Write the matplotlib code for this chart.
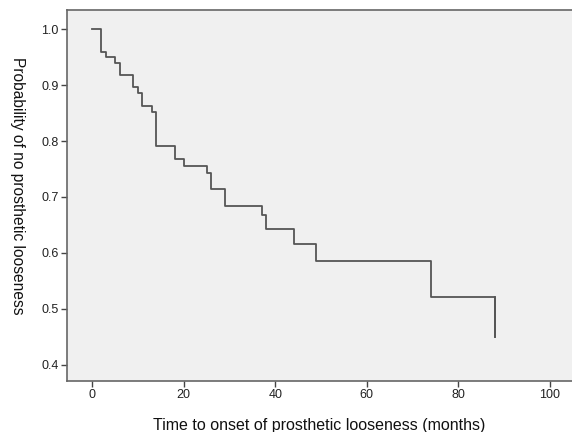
import matplotlib
matplotlib.use("Agg")
import matplotlib.pyplot as plt

# Kaplan-Meier steps
times = [0, 2, 3, 5, 6, 9, 10, 11, 13, 14, 18, 20, 25, 26, 29, 37, 38, 44, 49, 74, 88]
surv = [1.0, 0.960, 0.950, 0.940, 0.918, 0.896, 0.886, 0.863, 0.852, 0.792,
        0.768, 0.756, 0.743, 0.714, 0.684, 0.667, 0.643, 0.615, 0.586, 0.521, 0.449]

x_ticks = [0, 20, 40, 60, 80, 100]
y_ticks = [0.4, 0.5, 0.6, 0.7, 0.8, 0.9, 1.0]

plt.rcParams['font.family'] = ['Liberation Sans', 'DejaVu Sans']

fig = plt.figure(figsize=(5.72, 4.32), dpi=100)
ax = fig.add_axes([0.117, 0.118, 0.883, 0.858])
ax.set_facecolor('#f0f0f0')

ax.step(times, surv, where='post', color='#555555', lw=1.3)
# final drop at last event
ax.plot([times[-1], times[-1]], [surv[-2], surv[-1]], color='#555555', lw=1.3)

ax.set_xlim(-5.5, 104.8)
ax.set_ylim(0.3705, 1.034)
ax.set_xticks(x_ticks)
ax.set_yticks(y_ticks)
ax.set_xticklabels([str(t) for t in x_ticks])
ax.set_yticklabels([f"{t:.1f}" for t in y_ticks])

for side in ['left', 'bottom', 'top']:
    ax.spines[side].set_color('#666666')
    ax.spines[side].set_linewidth(1.2)
ax.spines['right'].set_visible(False)

ax.tick_params(direction='out', length=4, width=1, color='#444444',
               labelsize=9, labelcolor='#222222', pad=2)

ax.set_xlabel('Time to onset of prosthetic looseness (months)', fontsize=11.5,
              color='#111111', labelpad=12)
ax.set_ylabel('Probability of no prosthetic looseness', fontsize=11.2,
              color='#111111', rotation=270, va='center', ha='center')
ax.yaxis.set_label_coords(-0.097, 0.526)

fig.savefig('out.png', dpi=100)
